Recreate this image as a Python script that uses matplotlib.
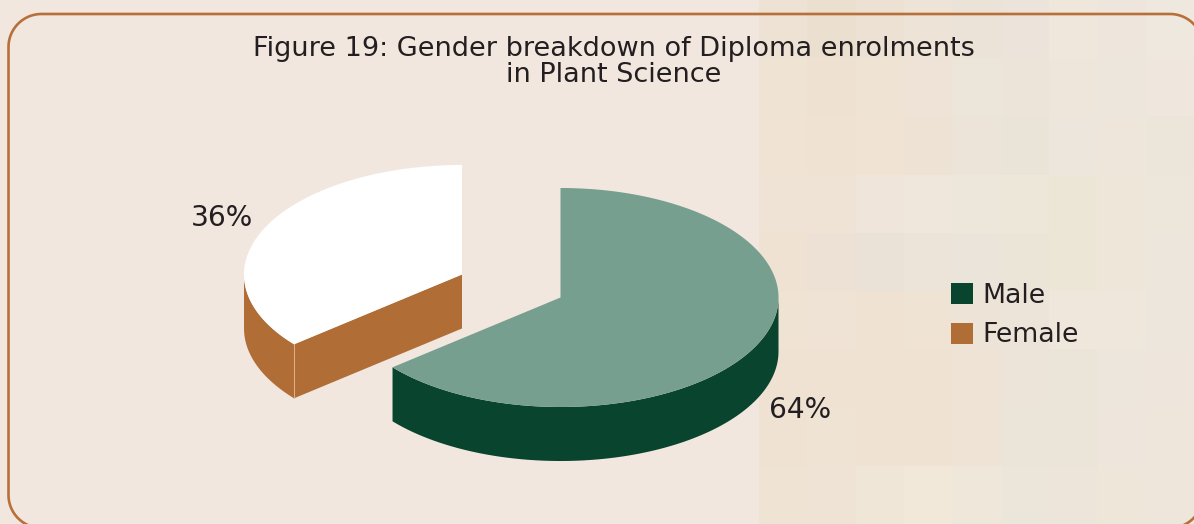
import numpy as np
import matplotlib
matplotlib.use('Agg')
import matplotlib.pyplot as plt
from matplotlib.colors import to_rgb
from matplotlib.patches import Patch, Polygon

# Chart values
categories = ['Male', 'Female']
shares = [64, 36]
share_labels = ['64%', '36%']

# Colours
page_colour = '#f1e7df'
border_colour = '#b8703a'
text_colour = '#231f20'
top_colours = ['#769f90', '#ffffff']
side_colours = ['#09442e', '#b06e36']

# Coarse tones of the paper texture on the right hand side
paper_tones = [
    ['#eee2d4', '#ebdfd0', '#ece1d3', '#ede3d7', '#ebe3d8', '#ece4da', '#efe7dc', '#eee6dc', '#efe8de'],
    ['#efe3d4', '#eee1d1', '#efe3d3', '#eee3d6', '#ebe5da', '#ece4d8', '#eee6da', '#ede6dc', '#efe7dd'],
    ['#f0e3d4', '#efe2d2', '#f0e3d3', '#eee2d4', '#ece4d8', '#eae3d8', '#ede6dc', '#eee6da', '#ece5da'],
    ['#efe3d5', '#efe3d5', '#efe5da', '#efe6dc', '#ede6da', '#ede7d9', '#ece6d6', '#eee7d9', '#ede6db'],
    ['#efe2d3', '#ece1d4', '#ebe2d7', '#ece3d9', '#ebe4da', '#ebe5d8', '#ece6d7', '#eee6d8', '#ede6dc'],
    ['#efe3d4', '#efe3d5', '#efe2d3', '#efe3d3', '#ede3d6', '#ece4d9', '#efe7dc', '#efe7dc', '#ede6dc'],
    ['#efe2d3', '#efe2d2', '#efe2d3', '#efe2d2', '#eee3d4', '#ece4d8', '#ebe4d9', '#ede6dc', '#eee6dc'],
    ['#efe2d3', '#efe3d4', '#efe2d3', '#efe2d2', '#eee3d5', '#ebe4d9', '#ebe4d9', '#eee6dc', '#eee6db'],
    ['#efe3d4', '#efe3d5', '#f0e6d8', '#f1e8da', '#efe8da', '#ece6da', '#ede5da', '#efe6da', '#eee6da'],
]


def arc_points(centre, degrees, rx, ry):
    """ Points on an ellipse, angles are clockwise from the top. """
    angles = np.radians(degrees)
    return np.column_stack([centre[0] + rx * np.sin(angles),
                            centre[1] - ry * np.cos(angles)])


def rounded_box(left, top, right, bottom, radius):
    """ Outline of a box with round corners. """
    corners = [((right - radius, top + radius), 0),
               ((right - radius, bottom - radius), 90),
               ((left + radius, bottom - radius), 180),
               ((left + radius, top + radius), 270)]
    parts = [arc_points(c, np.linspace(a, a + 90, 30), radius, radius) for c, a in corners]
    return np.vstack(parts)


fig = plt.figure(figsize=(11.94, 5.24), dpi=100, facecolor=page_colour)
ax = fig.add_axes([0, 0, 1, 1])

# Paper texture
ax.imshow(np.array([[to_rgb(c) for c in row] for row in paper_tones]),
          extent=(759, 1194, 524, 0), interpolation='nearest', aspect='auto', zorder=0)
ax.set_xlim(0, 1194)
ax.set_ylim(524, 0)
ax.axis('off')

# Rounded border, runs off the right and bottom of the page
ax.add_patch(Polygon(rounded_box(8.5, 14, 1203, 528, 33), closed=True, fill=False,
                     edgecolor=border_colour, linewidth=1.9, zorder=1))

# Pie geometry
rx, ry, depth = 218, 109.5, 54
centres = [(560.5, 297.5), (462, 274.5)]
spans = np.cumsum([0] + shares) * 360 / sum(shares)
label_positions = [(769, 418.5), (191, 226)]

for i, share in enumerate(shares):
    centre = centres[i]
    degrees = np.linspace(spans[i], spans[i + 1], 300)
    rim = arc_points(centre, degrees, rx, ry)
    drop = np.array([0, depth])

    # Cut wall, only the Female slice shows it
    if i == 1:
        hub = np.array(centre, dtype=float)
        wall = np.array([rim[0], hub, hub + drop, rim[0] + drop])
        ax.add_patch(Polygon(wall, facecolor=side_colours[i], edgecolor='none', zorder=2))

    # Rim wall
    front = rim[(degrees >= 90) & (degrees <= 270)]
    ax.add_patch(Polygon(np.vstack([front, (front + drop)[::-1]]),
                         facecolor=side_colours[i], edgecolor='none', zorder=2))

    # Thin highlight where the rim meets the cut wall
    if i == 1:
        ax.plot([rim[0][0], rim[0][0]], [rim[0][1], rim[0][1] + depth],
                color='#e0b48e', linewidth=0.7, zorder=3)

    # Top face
    ax.add_patch(Polygon(np.vstack([[centre], rim]), facecolor=top_colours[i],
                         edgecolor='none', zorder=4))

    ax.text(label_positions[i][0], label_positions[i][1], share_labels[i],
            fontsize=20.2, color=text_colour, ha='left', va='baseline', zorder=5)

# Title
ax.text(613.5, 55.5, 'Figure 19: Gender breakdown of Diploma enrolments',
        fontsize=19.5, color=text_colour, ha='center', va='baseline', zorder=5)
ax.text(613.5, 82.5, 'in Plant Science',
        fontsize=19.5, color=text_colour, ha='center', va='baseline', zorder=5)

# Legend
handles = [Patch(facecolor=c, edgecolor='none') for c in side_colours]
legend = ax.legend(handles, categories, loc='upper left', bbox_to_anchor=(951, 283),
                   bbox_transform=ax.transData, frameon=False, fontsize=19.3,
                   labelcolor=text_colour, borderpad=0, borderaxespad=0,
                   handlelength=0.82, handleheight=0.82,
                   handletextpad=0.36, labelspacing=0.5)
legend.set_zorder(5)

fig.savefig('out.png', dpi=100, facecolor=page_colour)
